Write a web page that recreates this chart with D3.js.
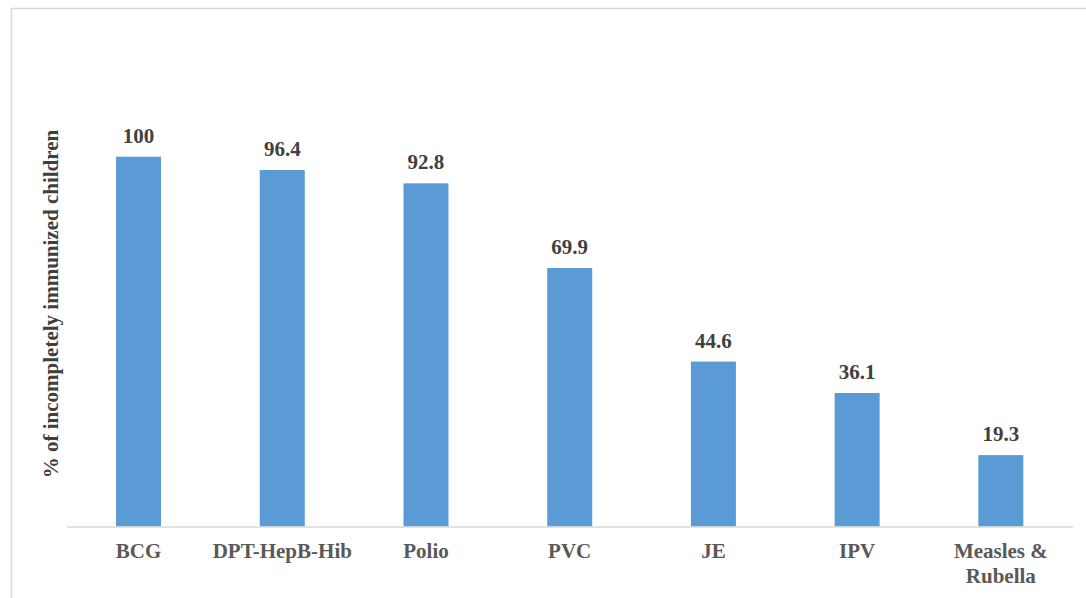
<!DOCTYPE html>
<html>
<head>
<meta charset="utf-8">
<script src="https://cdn.jsdelivr.net/npm/d3@7"></script>
<style>
  body { margin: 0; background: #fff; }
  svg { display: block; }
</style>
</head>
<body>
<svg id="chart" width="1086" height="598"></svg>
<script>
// data
var categories = ["BCG", "DPT-HepB-Hib", "Polio", "PVC", "JE", "IPV", "Measles & Rubella"];
var values = [100, 96.4, 92.8, 69.9, 44.6, 36.1, 19.3];
var axisTitle = "% of incompletely immunized children";

var svg = d3.select("#chart");
var font = "'Liberation Serif'";

// outer frame (only left + top visible in the source)
svg.append("rect")
    .attr("x", 11.5).attr("y", 8.5)
    .attr("width", 1090).attr("height", 600)
    .attr("fill", "none")
    .attr("stroke", "#d9d9d9")
    .attr("stroke-width", 1.5);

var x = d3.scaleBand()
    .domain(categories)
    .range([66.7, 1072.7])
    .paddingInner(0.687)
    .paddingOuter(0.3435);

var y = d3.scaleLinear()
    .domain([0, 100])
    .range([526.5, 156.7]);

// bars
svg.selectAll("rect.bar")
    .data(values)
    .enter().append("rect")
    .attr("class", "bar")
    .attr("x", (d, i) => x(categories[i]))
    .attr("y", d => y(d))
    .attr("width", x.bandwidth())
    .attr("height", d => y(0) - y(d))
    .attr("fill", "#5b9bd5");

// x axis baseline
var xAxis = svg.append("g")
    .attr("transform", "translate(0," + y(0) + ")")
    .call(d3.axisBottom(x).tickSize(0).tickFormat(""));
xAxis.select(".domain").attr("stroke", "#d9d9d9").attr("stroke-width", 1.3);

// category labels (wrap "Measles & Rubella")
svg.selectAll("text.cat")
    .data(categories)
    .enter().append("text")
    .attr("class", "cat")
    .attr("x", d => x(d) + x.bandwidth() / 2)
    .attr("y", 558)
    .attr("text-anchor", "middle")
    .style("font-family", font)
    .style("font-weight", "bold")
    .style("font-size", "21px")
    .attr("fill", "#595959")
    .each(function(d) {
        var t = d3.select(this);
        if (d === "Measles & Rubella") {
            var cx = x(d) + x.bandwidth() / 2;
            t.append("tspan").attr("x", cx).attr("dy", 0).text("Measles &");
            t.append("tspan").attr("x", cx).attr("dy", 24.7).text("Rubella");
        } else {
            t.text(d);
        }
    });

// value labels
svg.selectAll("text.val")
    .data(values)
    .enter().append("text")
    .attr("class", "val")
    .attr("x", (d, i) => x(categories[i]) + x.bandwidth() / 2)
    .attr("y", d => y(d) - 14)
    .attr("text-anchor", "middle")
    .style("font-family", font)
    .style("font-weight", "bold")
    .style("font-size", "21px")
    .attr("fill", "#404040")
    .text(d => d);

// y axis title
svg.append("text")
    .attr("transform", "translate(58,304) rotate(-90)")
    .attr("text-anchor", "middle")
    .style("font-family", font)
    .style("font-weight", "bold")
    .style("font-size", "21px")
    .attr("fill", "#404040")
    .text(axisTitle);
</script>
</body>
</html>
